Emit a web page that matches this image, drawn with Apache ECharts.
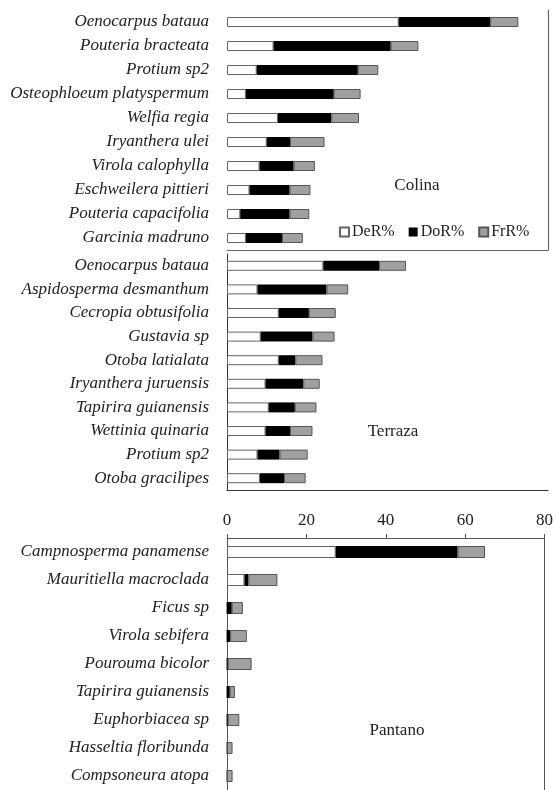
<!DOCTYPE html>
<html lang="es">
<head>
    <meta charset="UTF-8">
    <script src="https://cdn.jsdelivr.net/npm/echarts@6/dist/echarts.min.js"></script>
    <title>IVI</title>
    <style type="text/css">
        body { margin: 0; background: #fff; }
        #chart { width: 556px; height: 790px; }
    </style>
</head>
<body>
<div id="chart"></div>
<script type="text/javascript">
    // Colina
    const colinaSpecies = ['Oenocarpus bataua', 'Pouteria bracteata', 'Protium sp2', 'Osteophloeum platyspermum', 'Welfia regia',
        'Iryanthera ulei', 'Virola calophylla', 'Eschweilera pittieri', 'Pouteria capacifolia', 'Garcinia madruno'];
    const colinaDeR = [42.8, 11.6, 7.4, 4.7, 12.7, 9.9, 8.1, 5.6, 3.3, 4.7];
    const colinaDoR = [22.8, 29.2, 25.2, 21.9, 13.3, 5.8, 8.5, 10.0, 12.3, 9.0];
    const colinaFrR = [7.0, 6.9, 5.1, 6.7, 6.9, 8.6, 5.3, 5.2, 4.9, 5.2];

    // Terraza
    const terrazaSpecies = ['Oenocarpus bataua', 'Aspidosperma desmanthum', 'Cecropia obtusifolia', 'Gustavia sp', 'Otoba latialata',
        'Iryanthera juruensis', 'Tapirira guianensis', 'Wettinia quinaria', 'Protium sp2', 'Otoba gracilipes'];
    const terrazaDeR = [24.0, 7.6, 12.9, 8.4, 12.9, 9.6, 10.4, 9.6, 7.6, 8.2];
    const terrazaDoR = [13.9, 17.2, 7.5, 12.9, 4.1, 9.4, 6.5, 6.1, 5.5, 6.0];
    const terrazaFrR = [6.7, 5.4, 6.7, 5.5, 6.8, 4.1, 5.4, 5.6, 7.0, 5.4];

    // Pantano
    const pantanoSpecies = ['Campnosperma panamense', 'Mauritiella macroclada', 'Ficus sp', 'Virola sebifera', 'Pourouma bicolor',
        'Tapirira guianensis', 'Euphorbiacea sp', 'Hasseltia floribunda', 'Compsoneura atopa'];
    const pantanoDeR = [27.4, 4.4, 0, 0, 0, 0, 0, 0, 0];
    const pantanoDoR = [30.7, 1.0, 1.2, 0.8, 0.2, 0.7, 0.2, 0, 0];
    const pantanoFrR = [6.9, 7.3, 2.8, 4.2, 6.0, 1.3, 2.9, 1.4, 1.4];

    const panelNames = ['Colina', 'Terraza', 'Pantano'];
    const seriesNames = ['DeR%', 'DoR%', 'FrR%'];

    const serif = 'Liberation Serif, Times New Roman, serif';
    const styles = [
        {color: '#ffffff', borderColor: '#666', borderWidth: 1},
        {color: '#000000', borderColor: '#000', borderWidth: 0},
        {color: '#a0a0a0', borderColor: '#555', borderWidth: 1}
    ];

    const panels = [
        {species: colinaSpecies, values: [colinaDeR, colinaDoR, colinaFrR], barWidth: 10},
        {species: terrazaSpecies, values: [terrazaDeR, terrazaDoR, terrazaFrR], barWidth: 10},
        {species: pantanoSpecies, values: [pantanoDeR, pantanoDoR, pantanoFrR], barWidth: 12}
    ];

    const myChart = echarts.init(document.getElementById('chart'), null, {renderer: 'canvas'});

    const catLabel = {
        fontFamily: serif, fontStyle: 'italic', fontSize: 17, color: '#222', margin: 18
    };

    const series = [];
    panels.forEach(function (p, i) {
        for (let k = 0; k < 3; k++) {
            series.push({
                name: seriesNames[k],
                type: 'bar',
                stack: panelNames[i],
                xAxisIndex: i,
                yAxisIndex: i,
                barWidth: p.barWidth,
                itemStyle: styles[k],
                data: p.values[k]
            });
        }
    });

    const option = {
        animation: false,
        backgroundColor: '#fff',
        grid: [
            {left: 227, right: 8, top: 10, height: 240},
            {left: 227, right: 8, top: 254, height: 236},
            {left: 227, right: 8, top: 538, height: 256}
        ],
        xAxis: [
            {
                gridIndex: 0, type: 'value', min: 0, max: 80, interval: 20, position: 'bottom',
                axisLine: {show: true, lineStyle: {color: '#666', width: 1.2}},
                axisTick: {show: false}, axisLabel: {show: false}, splitLine: {show: false}
            },
            {
                gridIndex: 1, type: 'value', min: 0, max: 80, interval: 20, position: 'bottom',
                axisLine: {show: true, lineStyle: {color: '#333', width: 1}},
                axisTick: {show: false}, axisLabel: {show: false}, splitLine: {show: false}
            },
            {
                gridIndex: 2, type: 'value', min: 0, max: 80, interval: 20, position: 'top',
                axisLine: {show: true, lineStyle: {color: '#555', width: 1}},
                axisTick: {show: true, length: 4, lineStyle: {color: '#555'}},
                axisLabel: {show: true, fontFamily: serif, fontSize: 17, color: '#222', margin: 9},
                splitLine: {show: false}
            }
        ],
        yAxis: [
            {
                gridIndex: 0, type: 'category', inverse: true, data: colinaSpecies,
                axisLine: {show: false}, axisTick: {show: false}, axisLabel: catLabel
            },
            {
                gridIndex: 1, type: 'category', inverse: true, data: terrazaSpecies,
                axisLine: {show: true, lineStyle: {color: '#333'}}, axisTick: {show: false}, axisLabel: catLabel
            },
            {
                gridIndex: 2, type: 'category', inverse: true, data: pantanoSpecies,
                axisLine: {show: true, lineStyle: {color: '#555'}}, axisTick: {show: false}, axisLabel: catLabel
            },
            // right-hand frame lines (Colina, Pantano)
            {
                gridIndex: 0, type: 'category', position: 'right', data: colinaSpecies,
                axisLine: {show: true, lineStyle: {color: '#666', width: 1.2}}, axisTick: {show: false}, axisLabel: {show: false}
            },
            {
                gridIndex: 2, type: 'category', position: 'right', data: pantanoSpecies,
                axisLine: {show: true, lineStyle: {color: '#555'}}, axisTick: {show: false}, axisLabel: {show: false}
            }
        ],
        legend: {
            left: 334, top: 219,
            icon: 'rect', itemWidth: 9, itemHeight: 9, itemGap: 14,
            textStyle: {fontFamily: serif, fontSize: 16, color: '#222', padding: [0, 0, 0, -2]},
            data: seriesNames
        },
        graphic: [
            {type: 'text', x: 417, y: 186, style: {text: panelNames[0], font: '17px ' + serif, fill: '#222', textAlign: 'center', textVerticalAlign: 'middle'}},
            {type: 'text', x: 393, y: 432, style: {text: panelNames[1], font: '17px ' + serif, fill: '#222', textAlign: 'center', textVerticalAlign: 'middle'}},
            {type: 'text', x: 397, y: 731, style: {text: panelNames[2], font: '17px ' + serif, fill: '#222', textAlign: 'center', textVerticalAlign: 'middle'}}
        ],
        series: series
    };

    myChart.setOption(option);
</script>
</body>
</html>
